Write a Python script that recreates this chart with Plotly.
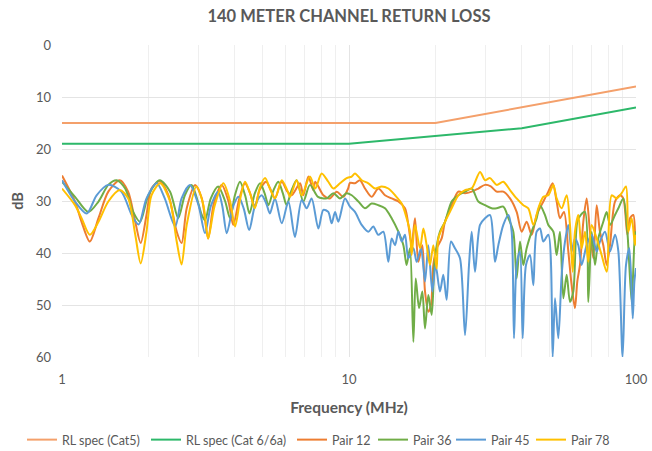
import plotly.graph_objects as go

# ---- spec lines ----
f_cat5 = [1, 20, 100]
db_cat5 = [15, 15, 8]
f_cat6 = [1, 10, 40, 100]
db_cat6 = [19, 19, 16, 12]

# ---- Pair 12 ----
f_p12 = [1.0, 1.11, 1.17, 1.25, 1.34, 1.45, 1.59, 1.70, 1.80, 1.88, 1.97, 2.05, 2.19, 2.35, 2.51, 2.61, 2.72, 2.91, 3.07,
         3.23, 3.38, 3.60, 3.80, 3.95, 4.15, 4.34, 4.52, 4.70, 4.88, 5.14, 5.35, 5.52, 5.83, 6.10, 6.31, 6.75, 6.93, 7.22,
         7.51, 7.63, 8.14, 8.58, 9.06, 9.55, 9.93,
         10.08, 10.49, 10.92, 11.37, 11.99, 12.65, 13.35, 14.08, 14.86, 15.67, 16.10, 16.53, 16.98, 17.44, 18.01, 18.40,
         18.90, 19.31, 19.67, 20.20, 21.03, 21.60, 22.79, 24.04, 25.37, 26.76, 28.22, 29.78, 31.2,
         32.70, 34.49, 36.39, 38.38, 39.96, 41.59, 43.30, 45.07, 47.55, 49.49, 51.24, 52.91, 54.34, 56.12, 58.10, 59.67,
         61.28, 62.43, 63.79, 65.52, 67.30, 69.12, 71.00, 72.93, 74.88, 76.92, 79.03, 81.17, 84.5, 87.9, 90.3, 93.3,
         95.3, 97.9, 99.5, 100]
db_p12 = [25.1, 30.1, 34.0, 37.8, 33.3, 28.2, 26.0, 28.2, 34.0, 38.1, 32.7, 27.6, 26.2, 28.9, 35.9, 38.1, 31.4, 26.9, 29.5,
          37.2, 30.5, 26.9, 30.0, 34.6, 29.5, 26.6, 28.5, 31.1, 27.9, 26.3, 28.0, 29.5, 26.3, 28.2, 28.9, 26.6, 28.9, 25.3,
          27.9, 26.3, 28.9, 29.5, 28.2, 29.2, 27.6,
          26.5, 26.6, 26.0, 27.6, 29.2, 27.6, 28.9, 29.5, 30.1, 31.4, 34.6, 38.5, 33.3, 41.7, 38.5, 47.4,
          51.3, 50.0, 42.3, 39.1, 37.2, 34.0, 30.8, 28.2, 28.5, 28.2, 27.6, 26.9, 27.2,
          28.2, 28.2, 29.5, 32.1, 35.9, 34.0, 36.5, 32.7, 30.1, 28.2, 26.6, 30.1, 33.3, 32.1, 39.7, 46.2,
          50.6, 45.5, 42.3, 34.0, 29.5, 35.9, 41.0, 30.8, 35.9, 38.5, 42.3, 38.5, 30.1, 28.9, 29.5, 36.5,
          33.3, 32.7, 37.8, 36.0]

# ---- Pair 36 ----
f_p36 = [1.0, 1.11, 1.235, 1.34, 1.45, 1.55, 1.66, 1.77, 1.87, 2.0, 2.19, 2.38, 2.54, 2.68, 2.83, 3.07,
         3.15, 3.30, 3.50, 3.70, 3.85, 4.0, 4.17, 4.35, 4.50, 4.70, 4.90, 5.08, 5.24, 5.45, 5.67, 5.88, 6.06, 6.30,
         6.57, 6.93, 7.31, 7.8, 8.36, 8.82, 9.30, 9.81,
         10.22, 10.78, 11.37, 11.99, 12.65, 13.35, 14.08, 14.86, 15.47, 15.88, 16.31, 16.76, 17.08, 17.54, 18.01,
         18.40, 18.90, 19.41, 19.93, 20.75, 21.60, 22.79, 24.04, 25.37, 26.76, 28.22, 29.78, 31.41,
         32.70, 34.49, 35.91, 37.37, 38.38, 39.43, 40.49, 41.59, 43.30, 45.07, 46.29, 48.19, 49.49, 51.52, 52.91,
         54.34, 55.82, 57.33, 58.88, 60.47, 62.43, 64.13, 66.41, 68.20, 70.05, 71.96, 73.90, 76.92, 79.03, 81.17,
         84.5, 86.8, 90.3, 93.3, 96.6, 99.2, 100]
db_p36 = [26.3, 29.2, 32.1, 30.1, 26.9, 26.0, 27.6, 32.1, 34.0, 28.9, 26.0, 28.2, 33.3, 28.9, 26.9, 32.7,
          33.7, 29.5, 27.2, 30.0, 33.3, 29.0, 26.3, 29.0, 32.4, 28.5, 26.6, 28.5, 30.8, 28.0, 26.3, 28.5, 30.8, 28.0,
          26.0, 30.1, 26.9, 29.2, 29.5, 28.5, 29.5, 28.5,
          28.9, 30.1, 31.4, 30.5, 30.8, 31.4, 33.3, 35.9, 38.5, 42.3, 39.1, 57.1, 44.9, 50.6, 47.4,
          54.5, 48.1, 51.9, 41.0, 35.9, 34.0, 30.1, 28.9, 28.2, 27.6, 30.1, 30.8, 31.4,
          31.4, 31.1, 33.3, 35.9, 44.9, 37.8, 42.3, 39.1, 35.9, 33.3, 30.8, 32.7, 34.6, 35.9, 40.4,
          35.9, 48.7, 44.2, 49.4, 47.4, 34.0, 32.7, 32.1, 49.4, 35.9, 42.3, 37.2, 34.0, 32.1, 34.6,
          32.7, 31.4, 29.5, 35.9, 49.4, 35.9, 37.0]

# ---- Pair 45 ----
f_p45 = [1.0, 1.11, 1.22, 1.32, 1.45, 1.61, 1.75, 1.85, 1.97, 2.14, 2.28, 2.48, 2.61, 2.79, 2.99, 3.15,
         3.30, 3.50, 3.62, 3.75, 3.95, 4.12, 4.30, 4.49, 4.70, 4.96, 5.15, 5.30, 5.52, 5.83, 6.15, 6.48, 6.84, 7.12,
         7.41, 7.82, 8.14, 8.47, 8.70, 8.94, 9.18, 9.68,
         10.08, 10.49, 11.07, 11.68, 12.15, 12.65, 13.17, 13.71, 14.08, 14.47, 14.86, 15.26, 15.67, 16.10, 16.76,
         17.21, 17.82, 18.40, 18.90, 19.51, 20.04, 20.75, 21.31, 21.89, 22.66, 23.40, 24.36, 25.37, 26.19, 26.76,
         27.48, 28.61, 29.78, 31.0,
         31.84, 32.27, 33.14, 34.49, 35.91, 36.88, 37.57, 38.38, 39.43, 40.28, 41.37, 42.72, 43.88, 45.07, 46.29,
         47.55, 49.49, 51.24, 52.21, 53.62, 55.08, 56.57, 58.10, 59.67, 61.28, 62.94, 64.65, 67.30, 70.05, 72.93,
         74.88, 77.98, 81.17, 84.5, 86.8, 89.8, 92.3, 94.8, 97.4, 98.7, 100]
db_p45 = [26.0, 30.1, 32.4, 28.9, 26.9, 28.2, 32.7, 34.5, 29.5, 26.6, 29.5, 34.9, 29.5, 26.9, 30.8, 36.2,
          31.0, 28.2, 31.0, 36.2, 31.0, 29.2, 31.5, 35.6, 31.0, 28.9, 30.5, 32.4, 29.5, 34.3, 30.1, 36.9, 29.8, 31.4,
          29.5, 35.3, 31.7, 32.1, 34.3, 32.1, 34.0, 29.5,
          31.1, 32.1, 34.6, 35.9, 34.9, 36.5, 35.9, 41.7, 37.2, 38.5, 35.9, 37.8, 36.5, 41.0, 39.1,
          41.7, 39.1, 45.5, 38.5, 47.4, 42.3, 47.4, 44.2, 49.0, 37.8, 39.1, 41.0, 55.8, 42.3, 35.9,
          43.6, 34.6, 33.3, 32.7,
          37.8, 41.7, 38.5, 34.6, 32.7, 35.9, 56.4, 42.3, 39.7, 56.4, 42.3, 40.4, 46.2, 35.9, 35.3,
          37.8, 36.5, 60.0, 48.7, 56.4, 44.2, 37.8, 34.6, 39.7, 37.2, 38.5, 42.3, 38.5, 36.5, 39.7,
          37.8, 35.9, 39.7, 36.5, 39.7, 60.0, 42.3, 39.1, 52.6, 45.5, 42.9]

# ---- Pair 78 ----
f_p78 = [1.0, 1.11, 1.17, 1.25, 1.34, 1.45, 1.59, 1.70, 1.80, 1.88, 1.97, 2.05, 2.20, 2.38, 2.51, 2.61, 2.72, 2.94, 3.11,
         3.23, 3.40, 3.65, 3.85, 4.01, 4.18, 4.34, 4.52, 4.70, 4.88, 5.10, 5.30, 5.52, 5.83, 6.10, 6.23, 6.57, 6.84,
         7.31, 7.63, 8.03, 8.47, 8.82, 9.30, 9.81,
         10.22, 10.49, 11.07, 11.68, 12.32, 13.00, 13.71, 14.47, 15.26, 15.88, 16.31, 16.53, 16.98, 17.68, 18.16,
         18.65, 19.15, 19.67, 20.20, 20.48, 21.60, 22.79, 24.04, 25.37, 26.76, 28.61, 29.78, 31.0,
         32.70, 34.49, 36.39, 38.38, 40.49, 42.15, 43.88, 45.68, 47.55, 49.49, 51.52, 52.91, 55.08, 57.33, 58.88,
         60.15, 61.28, 62.94, 64.65, 66.41, 68.20, 70.05, 72.93, 75.90, 79.03, 82.27, 85.6, 89.1, 92.3, 94.0,
         96.6, 99.2, 100]
db_p78 = [27.6, 30.8, 33.3, 36.5, 34.0, 30.1, 27.9, 29.5, 36.5, 42.0, 35.9, 28.9, 26.6, 30.1, 37.8, 42.2, 34.6, 27.2, 30.8,
          37.2, 31.0, 26.6, 30.0, 34.9, 29.5, 26.3, 28.5, 31.4, 27.6, 25.6, 27.6, 29.5, 26.0, 28.0, 29.2, 26.0, 28.9,
          25.3, 27.6, 24.7, 26.3, 27.6, 26.6, 25.6,
          25.3, 24.7, 26.0, 26.6, 27.6, 27.2, 27.6, 28.9, 30.5, 33.3, 35.9, 40.4, 34.6, 39.1, 35.3,
          38.5, 42.3, 38.5, 43.0, 37.2, 34.0, 31.4, 28.9, 27.9, 27.6, 24.4, 26.0, 25.6,
          26.9, 26.3, 27.9, 29.5, 30.8, 31.4, 34.6, 31.4, 29.2, 28.9, 26.9, 29.5, 31.4, 28.9, 34.6,
          43.6, 35.9, 32.7, 39.1, 35.9, 41.7, 34.6, 37.2, 40.4, 43.6, 28.9, 29.5, 28.5, 27.2, 35.9,
          33.3, 38.5, 36.5]

series = [
    ("RL spec (Cat5)", f_cat5, db_cat5, "#F4A06B", "linear"),
    ("RL spec (Cat 6/6a)", f_cat6, db_cat6, "#2DB86A", "linear"),
    ("Pair 12", f_p12, db_p12, "#ED7D31", "spline"),
    ("Pair 36", f_p36, db_p36, "#70AD47", "spline"),
    ("Pair 45", f_p45, db_p45, "#5B9BD5", "spline"),
    ("Pair 78", f_p78, db_p78, "#FFC000", "spline"),
]

# legend entry left edges (pixels from the figure's left)
legend_left_px = [22, 146, 292, 373, 451, 531]
PLOT_L, PLOT_R, PLOT_T, PLOT_B = 62, 636, 45, 357
W, H = 652, 451

fig = go.Figure()
legend_layouts = {}
for i, (name, fx, fy, col, shape) in enumerate(series):
    line = dict(color=col, width=2, shape=shape)
    if shape == "spline":
        line["smoothing"] = 0.8
    lg = "legend" if i == 0 else f"legend{i + 1}"
    fig.add_trace(go.Scatter(x=fx, y=fy, mode="lines", name=name, line=line, legend=lg))
    legend_layouts[lg] = dict(
        orientation="h",
        x=(legend_left_px[i] - PLOT_L) / (PLOT_R - PLOT_L), xanchor="left",
        y=(PLOT_B - 440) / (PLOT_B - PLOT_T), yanchor="middle",
        font=dict(size=12.5, color="#595959"), itemwidth=30, bgcolor="rgba(0,0,0,0)",
    )

minor_vals = [m * d for d in (1, 10) for m in range(2, 10)]

fig.update_layout(
    width=W, height=H,
    margin=dict(l=PLOT_L, r=W - PLOT_R, t=PLOT_T, b=H - PLOT_B, autoexpand=False),
    paper_bgcolor="white", plot_bgcolor="white",
    font=dict(family="Lato, Open Sans, sans-serif", color="#595959", size=13),
    title=dict(text="<b>140 METER CHANNEL RETURN LOSS</b>", x=0.5, xref="paper", xanchor="center",
               y=1 - 16 / H, yanchor="middle", font=dict(size=16.5, color="#595959")),
    showlegend=True,
    hovermode=False,
    xaxis=dict(type="log", range=[0, 2], tickvals=[1, 10, 100], ticktext=["1", "10", "100"],
               showgrid=True, gridcolor="#E4E4E4", gridwidth=1, zeroline=False, showline=False,
               ticks="", tickfont=dict(size=13, color="#595959"), ticklabelstandoff=13,
               ticklabeloverflow="allow", automargin=False,
               minor=dict(tickvals=minor_vals, showgrid=True, gridcolor="#EFEFEF", gridwidth=1, ticks=""),
               title=dict(text="<b>Frequency (MHz)</b>", font=dict(size=15.5, color="#595959"), standoff=16)),
    yaxis=dict(range=[60, 0], tickvals=[0, 10, 20, 30, 40, 50, 60], showgrid=True, gridcolor="#E4E4E4",
               zeroline=False, showline=False, ticks="", tickfont=dict(size=13, color="#595959"),
               ticklabelstandoff=10, automargin=False,
               title=dict(text="<b>dB</b>", font=dict(size=14.5, color="#595959"), standoff=8)),
    **legend_layouts,
)

fig.write_html("out.html", config={"displayModeBar": False},
               post_script="document.body.style.margin='0';document.body.style.overflow='hidden';")
